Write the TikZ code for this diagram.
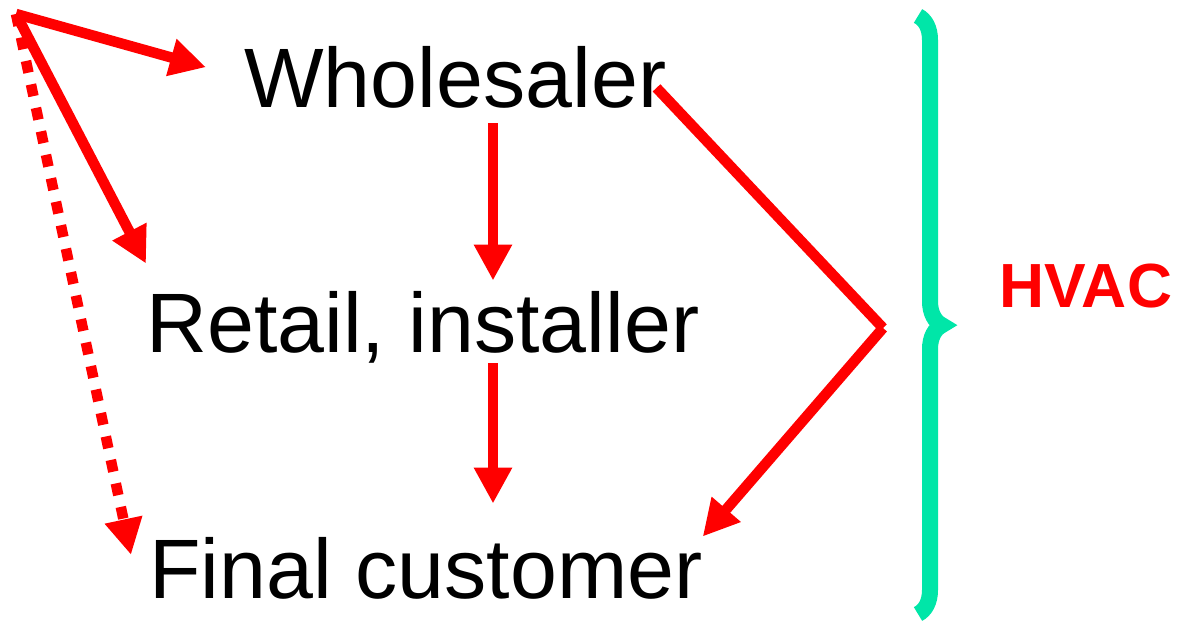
\documentclass[tikz,border=0pt]{standalone}
\usepackage{fontspec}
\setmainfont{Liberation Sans}
\usetikzlibrary{arrows.meta,decorations.pathreplacing,positioning}
\definecolor{hvacred}{RGB}{255,0,0}
\definecolor{bracegreen}{RGB}{0,230,168}

\begin{document}
\begin{tikzpicture}[x=0.02cm,y=-0.02cm]
\useasboundingbox (0,0) rectangle (1190,625);
\begin{scope}
	\tikzstyle{every node}=[inner sep=0pt, font=\fontsize{48pt}{52pt}\selectfont]
	\tikzstyle{flow}=[line width=0.21cm, draw=hvacred, -{Triangle[length=0.72cm,width=0.72cm]}]
	\tikzstyle{redline}=[line width=0.21cm, draw=hvacred]
	\node[anchor=base west] (whole) at (244,108) {Wholesaler};
	\node[anchor=base west] (retail) at (146,352) {Retail, installer};
	\node[anchor=base west] (final) at (149,598) {Final customer};
	\node[text=hvacred, font=\fontsize{35.5pt}{38pt}\selectfont\bfseries] (hvac) at (1086,286) {HVAC};

	\coordinate (src) at (16,14);
	\coordinate (col) at (493,0);
	\coordinate (knee) at (883,328);
	\coordinate[above=0.54cm of retail.north west] (rtip);
	\coordinate[above left=0.26cm and 0.36cm of final.west] (ftip);
	\coordinate[below left=0.2cm and 0.2cm of whole.east] (wout);

	\draw [flow, shorten >=0.79cm] (src) -- (whole.west);
	\draw [flow] (src) -- (rtip);
	\draw [flow, dash pattern=on 0.24cm off 0.24cm] (src) -- (ftip);

	\draw [flow, shorten <=0.28cm, shorten >=0.2cm] (whole.south -| col) -- (retail.north -| col);
	\draw [flow, shorten >=0.66cm] (retail.south -| col) -- (final.north -| col);

	\draw [redline] (wout) -- (knee);
	\draw [flow] (knee) -- (final.north east);

	\draw [bracegreen, line width=0.32cm, decorate, decoration={brace, amplitude=0.48cm, aspect=0.517}] (918,16) -- (918,614);
\end{scope}
\end{tikzpicture}
\end{document}
